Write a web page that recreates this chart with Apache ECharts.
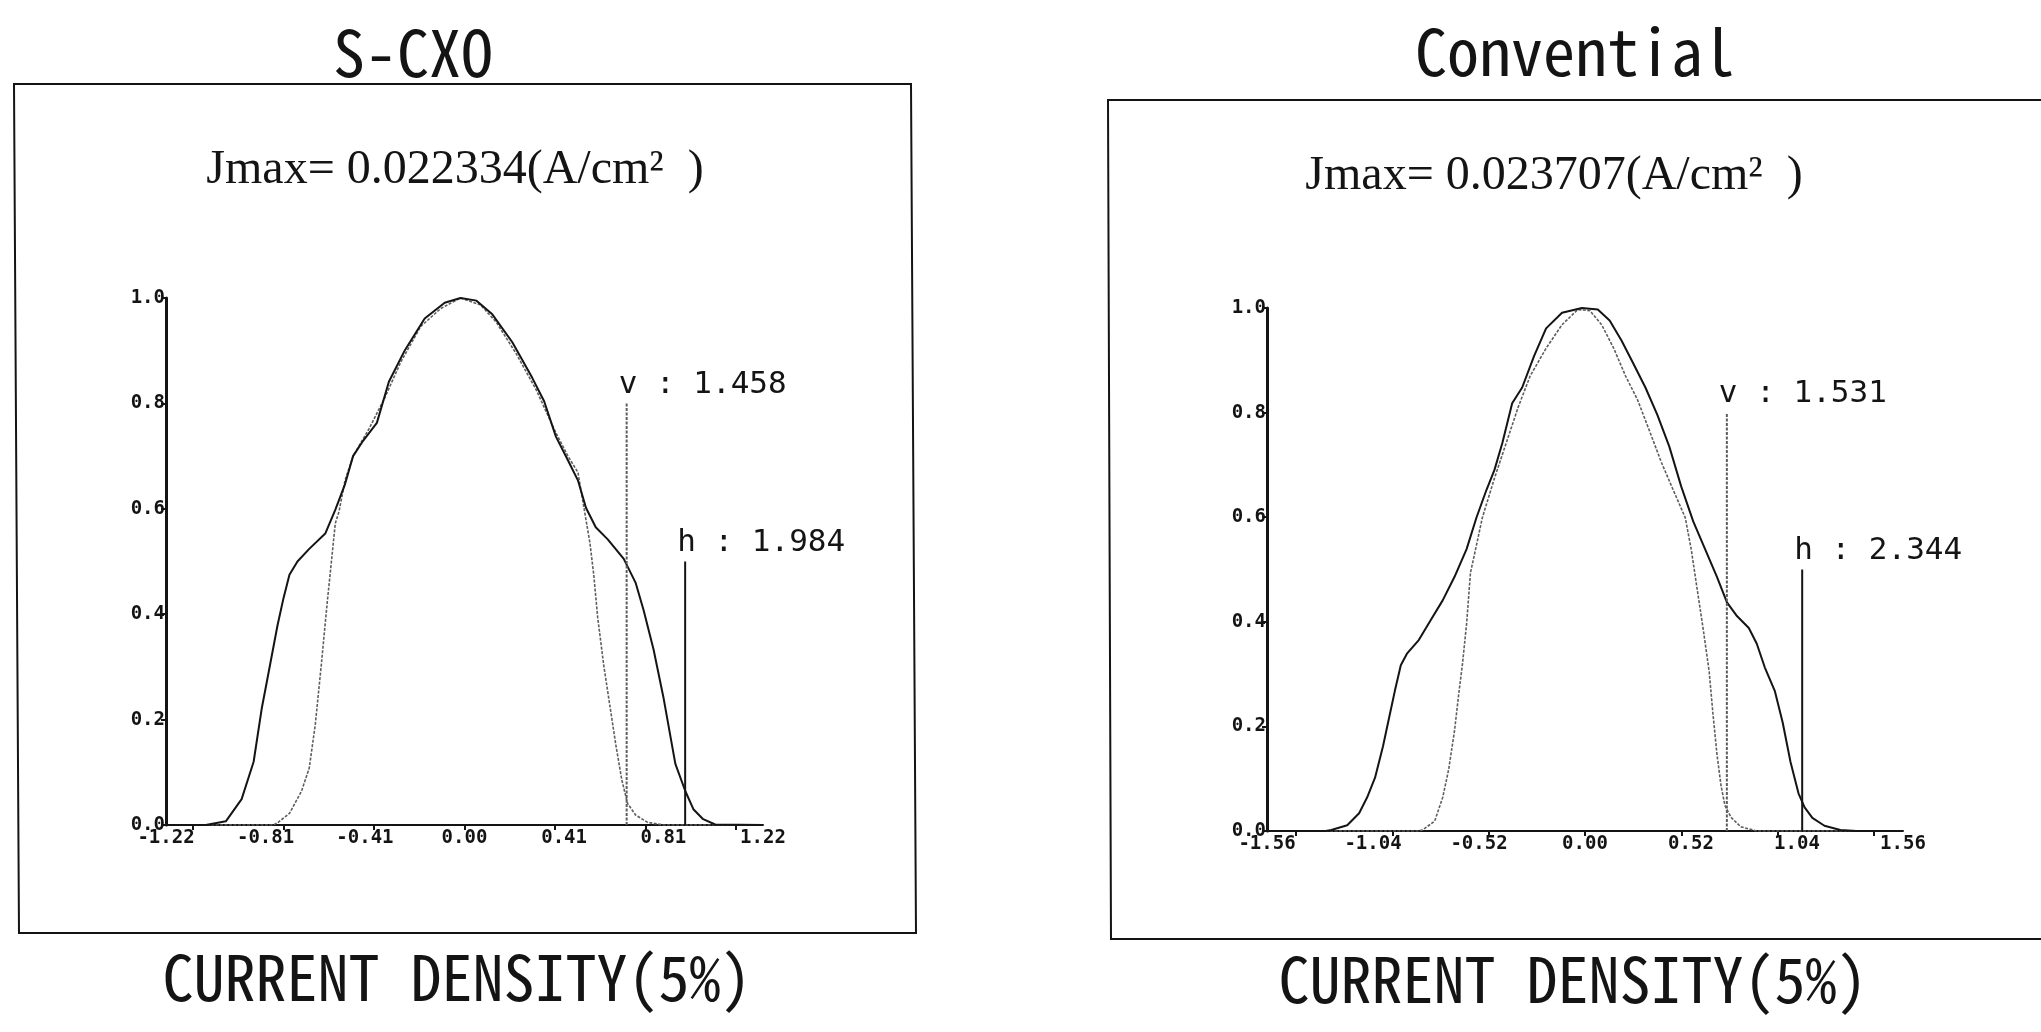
<!DOCTYPE html>
<html><head><meta charset="utf-8">
<script src="https://cdn.jsdelivr.net/npm/echarts@6/dist/echarts.min.js"></script>
<style>html,body{margin:0;padding:0;background:#fff}#c{width:2041px;height:1032px}</style>
</head><body><div id="c"></div>
<script>
// ---- texts ----
const panelTitles = ['S-CXO', 'Convential'];
const jmaxTexts = ['Jmax= 0.022334(A/cm²  )', 'Jmax= 0.023707(A/cm²  )'];
const bottomTitles = ['CURRENT DENSITY(5%)', 'CURRENT DENSITY(5%)'];
// ---- axes ----
const yTickValues = [0, 0.2, 0.4, 0.6, 0.8, 1.0];
const yTickLabels = ['0.0', '0.2', '0.4', '0.6', '0.8', '1.0'];
const xTickValuesA = [-1.22, -0.813, -0.407, 0, 0.407, 0.813, 1.22];
const xTickLabelsA = ['-1.22', '-0.81', '-0.41', '0.00', '0.41', '0.81', '1.22'];
const xTickValuesB = [-1.56, -1.04, -0.52, 0, 0.52, 1.04, 1.56];
const xTickLabelsB = ['-1.56', '-1.04', '-0.52', '0.00', '0.52', '1.04', '1.56'];
const xRanges = [1.342, 1.716];
// ---- 5% widths (v, h) and their marker heights ----
const widthNames = ['v', 'h'];
const widthsA = [1.458, 1.984];
const widthsB = [1.531, 2.344];
const markerTops = [0.8, 0.5];
// ---- profiles (x, normalised J) ----
const hCurveA = [[-1.342,0],[-1.163,0],[-1.073,0.007],[-1.002,0.049],[-0.948,0.12],[-0.912,0.22],[-0.885,0.28],[-0.841,0.378],[-0.814,0.43],[-0.787,0.475],[-0.751,0.50],[-0.698,0.524],[-0.626,0.553],[-0.581,0.598],[-0.537,0.647],[-0.501,0.70],[-0.456,0.729],[-0.394,0.763],[-0.340,0.841],[-0.268,0.901],[-0.179,0.961],[-0.089,0.991],[-0.018,1.0],[0.054,0.995],[0.125,0.969],[0.215,0.916],[0.304,0.849],[0.358,0.804],[0.411,0.737],[0.465,0.692],[0.510,0.654],[0.546,0.602],[0.590,0.565],[0.644,0.542],[0.716,0.505],[0.769,0.46],[0.805,0.408],[0.850,0.333],[0.894,0.243],[0.948,0.116],[0.993,0.064],[1.029,0.03],[1.073,0.011],[1.127,0.001],[1.342,0]];
const vCurveA = [[-1.342,0],[-0.860,0],[-0.841,0.004],[-0.787,0.022],[-0.733,0.064],[-0.698,0.108],[-0.671,0.19],[-0.644,0.303],[-0.617,0.423],[-0.599,0.497],[-0.581,0.572],[-0.564,0.595],[-0.537,0.654],[-0.501,0.70],[-0.429,0.752],[-0.358,0.811],[-0.286,0.879],[-0.197,0.946],[-0.107,0.98],[-0.018,1.0],[0.072,0.987],[0.143,0.954],[0.233,0.894],[0.322,0.826],[0.411,0.744],[0.465,0.70],[0.510,0.669],[0.537,0.602],[0.564,0.535],[0.581,0.475],[0.599,0.393],[0.626,0.303],[0.653,0.228],[0.680,0.153],[0.707,0.086],[0.733,0.041],[0.769,0.019],[0.823,0.005],[0.894,0],[1.342,0]];
const hCurveB = [[-1.716,0],[-1.40,0],[-1.369,0.002],[-1.283,0.011],[-1.219,0.034],[-1.176,0.064],[-1.133,0.102],[-1.09,0.162],[-1.058,0.215],[-1.026,0.268],[-0.994,0.317],[-0.961,0.339],[-0.897,0.365],[-0.833,0.403],[-0.768,0.441],[-0.704,0.486],[-0.639,0.539],[-0.586,0.599],[-0.532,0.652],[-0.489,0.69],[-0.446,0.742],[-0.393,0.818],[-0.339,0.848],[-0.275,0.908],[-0.210,0.961],[-0.124,0.991],[-0.017,1.0],[0.069,0.997],[0.133,0.976],[0.197,0.938],[0.262,0.893],[0.326,0.848],[0.391,0.795],[0.455,0.735],[0.519,0.659],[0.584,0.592],[0.648,0.539],[0.712,0.486],[0.766,0.437],[0.820,0.411],[0.884,0.388],[0.927,0.358],[0.970,0.313],[1.024,0.268],[1.067,0.207],[1.109,0.132],[1.152,0.072],[1.185,0.045],[1.227,0.025],[1.292,0.01],[1.378,0.002],[1.464,0],[1.716,0]];
const vCurveB = [[-1.716,0],[-0.90,0],[-0.876,0.002],[-0.811,0.019],[-0.768,0.064],[-0.736,0.117],[-0.704,0.192],[-0.682,0.26],[-0.661,0.32],[-0.639,0.396],[-0.618,0.494],[-0.586,0.546],[-0.554,0.599],[-0.489,0.674],[-0.425,0.742],[-0.361,0.81],[-0.296,0.87],[-0.210,0.923],[-0.124,0.968],[-0.039,0.997],[0.026,0.995],[0.090,0.968],[0.155,0.923],[0.219,0.87],[0.283,0.825],[0.348,0.765],[0.412,0.705],[0.476,0.652],[0.541,0.599],[0.573,0.539],[0.605,0.463],[0.637,0.388],[0.670,0.305],[0.691,0.222],[0.712,0.147],[0.734,0.087],[0.755,0.049],[0.788,0.026],[0.841,0.008],[0.927,0],[1.716,0]];

// ---- styling / layout ----
const INK = '#141414', GREY = '#5e5e5e';
const TICKFONT = "'DejaVu Sans Mono', monospace";
const TITLEFONT = "'Noto Sans Mono CJK KR', 'DejaVu Sans Mono', monospace";
const LABEL_SPREAD = 1.1; // the plotter spreads tick labels over the full axis length
const grids = [
  { left: 166, top: 298, width: 597, height: 527 },
  { left: 1267, top: 308, width: 636, height: 523 }
];
const xTicks = [xTickValuesA, xTickValuesB];
const xLabels = [xTickLabelsA, xTickLabelsB];
const curvesH = [hCurveA, hCurveB];
const curvesV = [vCurveA, vCurveB];
const widths = [widthsA, widthsB];

function nearestLabel(vals, labs, v) {
  let bi = 0, bd = Infinity;
  vals.forEach((t, i) => { const d = Math.abs(t - v); if (d < bd) { bd = d; bi = i; } });
  return labs[bi];
}

const xAxes = [], yAxes = [], series = [];
[0, 1].forEach(p => {
  const labelPos = xTicks[p].map(t => Math.max(-xRanges[p], Math.min(xRanges[p], t * LABEL_SPREAD)));
  xAxes.push({
    gridIndex: p, type: 'value', min: -xRanges[p], max: xRanges[p],
    axisLine: { show: true, onZero: false, lineStyle: { color: INK, width: 2 } },
    axisTick: { show: true, customValues: xTicks[p], length: 5, lineStyle: { color: INK, width: 2 } },
    axisLabel: { show: true, customValues: labelPos, margin: 4,
      formatter: v => nearestLabel(labelPos, xLabels[p], v),
      fontFamily: TICKFONT, fontWeight: 'bold', fontSize: 19, color: INK },
    splitLine: { show: false }
  });
  yAxes.push({
    gridIndex: p, type: 'value', min: 0, max: 1, interval: 0.2,
    axisLine: { show: true, onZero: false, lineStyle: { color: INK, width: 3 } },
    axisTick: { show: true, length: 5, lineStyle: { color: INK, width: 2 } },
    axisLabel: { margin: 1, formatter: v => nearestLabel(yTickValues, yTickLabels, v),
      fontFamily: TICKFONT, fontWeight: 'bold', fontSize: 19, color: INK },
    splitLine: { show: false }
  });
  series.push({
    type: 'line', xAxisIndex: p, yAxisIndex: p, data: curvesV[p], showSymbol: false,
    lineStyle: { color: GREY, width: 1.6, type: [3, 1.5] }, z: 3
  });
  series.push({
    type: 'line', xAxisIndex: p, yAxisIndex: p, data: curvesH[p], showSymbol: false,
    lineStyle: { color: INK, width: 2 }, z: 4
  });
  widthNames.forEach((nm, k) => {
    const xm = widths[p][k] / 2;
    series.push({
      type: 'line', xAxisIndex: p, yAxisIndex: p, symbol: 'circle', symbolSize: 0.1,
      lineStyle: k === 0 ? { color: GREY, width: 2, type: [3, 1.5] } : { color: INK, width: 2 }, z: 5,
      data: [
        { value: [xm, 0], label: { show: false } },
        { value: [xm, markerTops[k]], label: {
            show: true, position: 'top', align: 'left', distance: 3, offset: [-8, 0],
            formatter: nm + ' : ' + widths[p][k].toFixed(3),
            fontFamily: TICKFONT, fontSize: 31, color: INK } }
      ]
    });
  });
});

const frameA = [[14, 84], [911, 84], [916, 933], [19, 933]];
const frameB = [[1108, 100], [2050, 100], [2050, 939], [1111, 939]];
const titleX = [413, 1575], titleY = [53, 52];
const jmaxX = [455, 1554], jmaxY = [170, 176];
const botX = [457, 1573], botY = [977, 979];
const graphic = [];
[frameA, frameB].forEach(pts => graphic.push({ type: 'polygon', silent: true, shape: { points: pts },
  style: { fill: 'none', stroke: INK, lineWidth: 2 } }));
[0, 1].forEach(p => {
  graphic.push({ type: 'text', x: titleX[p], y: titleY[p], style: { text: panelTitles[p], align: 'center', verticalAlign: 'middle',
    fontFamily: TITLEFONT, fontSize: 64, fill: INK } });
  graphic.push({ type: 'text', x: jmaxX[p], y: jmaxY[p], style: { text: jmaxTexts[p], align: 'center', verticalAlign: 'middle',
    fontFamily: "'Liberation Serif', serif", fontSize: 48, fill: INK } });
  graphic.push({ type: 'text', x: botX[p], y: botY[p], style: { text: bottomTitles[p], align: 'center', verticalAlign: 'middle',
    fontFamily: TITLEFONT, fontSize: 62, fill: INK } });
});

const chart = echarts.init(document.getElementById('c'), null, { renderer: 'canvas' });
chart.setOption({
  backgroundColor: '#fff', animation: false,
  grid: grids, xAxis: xAxes, yAxis: yAxes, series: series, graphic: graphic
});
</script></body></html>
